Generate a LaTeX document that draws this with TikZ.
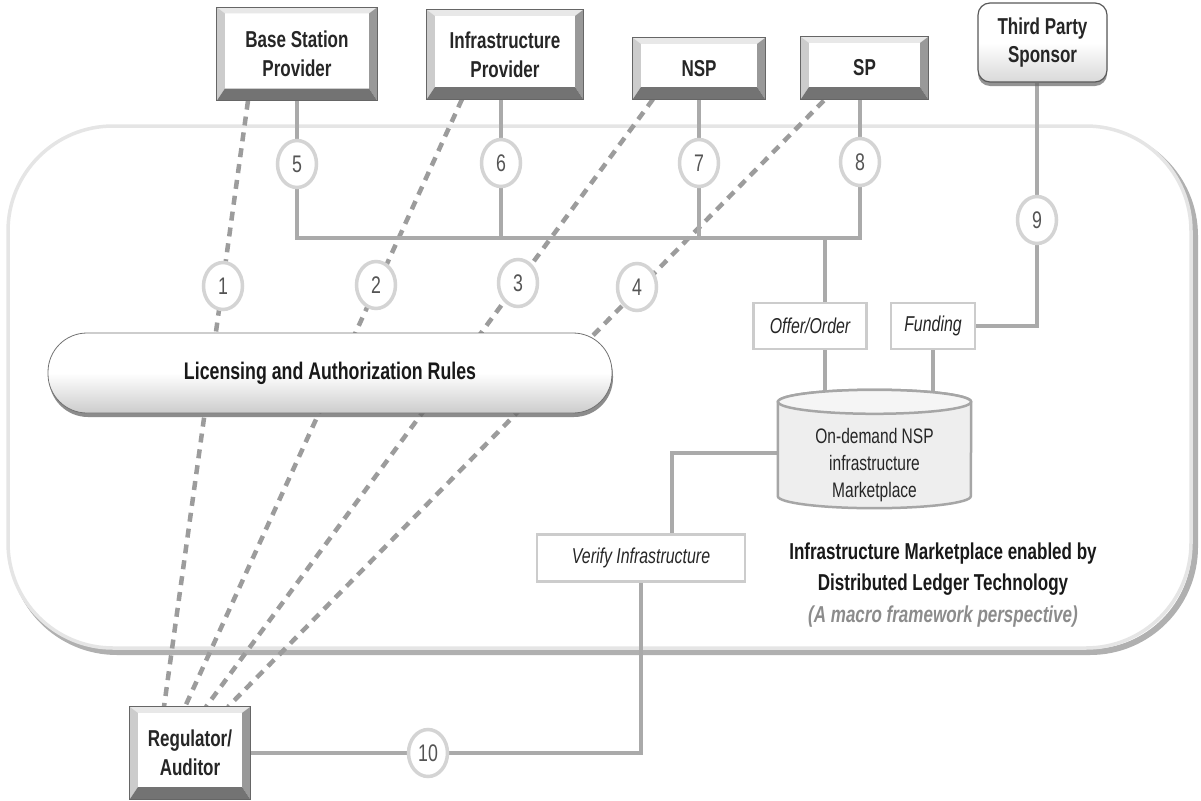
\documentclass[tikz,border=0pt]{standalone}
\usepackage{fontspec}
\setmainfont{Liberation Sans}[FakeStretch=0.74]
\usetikzlibrary{shapes.geometric,shadows,calc}
\pgfdeclarelayer{back}
\pgfdeclarelayer{wires}
\pgfdeclarelayer{body}
\pgfsetlayers{back,wires,body,main}

% bevelled frame drawn over the edges of a rectangular node
\newcommand\bevelframe[1]{%
  \fill[bvtop] (#1.north west) -- (#1.north east) -- ([shift={(-8pt,-6pt)}]#1.north east) -- ([shift={(8pt,-6pt)}]#1.north west) -- cycle;
  \fill[bvleft] (#1.north west) -- ([shift={(8pt,-6pt)}]#1.north west) -- ([shift={(8pt,12pt)}]#1.south west) -- (#1.south west) -- cycle;
  \fill[bvright] (#1.north east) -- ([shift={(-8pt,-6pt)}]#1.north east) -- ([shift={(-8pt,12pt)}]#1.south east) -- (#1.south east) -- cycle;
  \fill[bvbottom] (#1.south west) -- ([shift={(8pt,12pt)}]#1.south west) -- ([shift={(-8pt,12pt)}]#1.south east) -- (#1.south east) -- cycle;
  \draw[black!60, line width=0.8pt] (#1.north west) rectangle (#1.south east);
}

\begin{document}
\begin{tikzpicture}[x=1pt,y=-1pt,
  prov/.style={rectangle, fill=white, inner sep=0pt, align=center,
    font=\bfseries\fontsize{23}{29}\selectfont, text=black!85},
  bvtop/.style={fill=gray!18},
  bvleft/.style={fill=gray!40},
  bvright/.style={fill=gray!80},
  bvbottom/.style={fill=black!55},
  sponsor/.style={rectangle, rounded corners=12pt, draw=black!65, line width=1.2pt,
    top color=white, bottom color=gray!30, middle color=white,
    drop shadow={shadow xshift=0pt, shadow yshift=-4pt, fill=black!60, opacity=0.7},
    align=center, inner sep=0pt, font=\bfseries\fontsize{23}{28}\selectfont, text=black!85},
  pill/.style={rectangle, rounded corners=39pt, draw=black!55, line width=0.8pt,
    top color=white, bottom color=gray!40, middle color=white,
    drop shadow={shadow xshift=1pt, shadow yshift=-4pt, fill=black!60, opacity=0.75},
    font=\bfseries\fontsize{24}{28}\selectfont, text=black!90},
  num/.style={ellipse, draw=gray!34, line width=3.5pt, fill=white, inner sep=0pt,
    minimum width=39pt, minimum height=47pt, font=\fontsize{24}{24}\selectfont, text=black!67},
  tag/.style={rectangle, draw=gray!40, line width=2.5pt, fill=white, inner sep=0pt,
    font=\itshape\fontsize{21.5}{21.5}\selectfont, text=black!85},
  conn/.style={draw=gray!67, line width=4pt},
  regline/.style={draw=gray!78, line width=4.5pt, dash pattern=on 9pt off 7pt},
  cyl/.style={draw=gray!70, line width=2.5pt, fill=gray!13},
]
\useasboundingbox (0,0) rectangle (1201,800);

% outer container
\begin{pgfonlayer}{back}
  \draw[gray!62, line width=6pt, rounded corners=105pt] (12,131) rectangle (1195,652);
  \draw[gray!20, line width=3.5pt, fill=white, rounded corners=105pt] (8,126) rectangle (1191,648);
\end{pgfonlayer}

% parties
\node[prov, minimum width=160pt, minimum height=93pt] (bsp) at (297,54) {Base Station\\Provider};
\node[prov, minimum width=156pt, minimum height=89pt] (ip) at (505,54.5) {Infrastructure\\Provider};
\node[prov, minimum width=132pt, minimum height=61pt] (nsp) at (699,68.5) {NSP};
\node[prov, minimum width=127pt, minimum height=62pt] (sp) at (864.5,68) {SP};
\node[sponsor, minimum width=129pt, minimum height=79pt] (tps) at (1042.5,42.5) {Third Party\\Sponsor};
\node[prov, minimum width=120pt, minimum height=92pt] (reg) at (190,753) {Regulator/\\Auditor};

\bevelframe{bsp}
\bevelframe{ip}
\bevelframe{nsp}
\bevelframe{sp}
\bevelframe{reg}

% rules and ledger
\node[pill, minimum width=564pt, minimum height=80pt] (lic) at (330,373) {Licensing and Authorization Rules};
\node[tag, minimum width=113pt, minimum height=46pt] (oo) at (810,326) {Offer/Order};
\node[tag, minimum width=84pt, minimum height=46pt] (fund) at (933,326) {Funding};
\node[tag, minimum width=208pt, minimum height=47pt] (vi) at (641,558) {Verify Infrastructure};
\node[minimum width=193pt, minimum height=94pt, inner sep=0pt] (mkt) at (874.5,449) {};
\node[align=center, font=\fontsize{21}{27}\selectfont, text=black!85] (mktlbl) at (874.5,465)
  {On-demand NSP\\infrastructure\\Marketplace};

\begin{pgfonlayer}{body}
  \filldraw[cyl] (mkt.north west) -- (mkt.south west)
    arc[start angle=180, end angle=360, x radius=96.5pt, y radius=12pt]
    -- (mkt.north east)
    arc[start angle=0, end angle=180, x radius=96.5pt, y radius=12pt] -- cycle;
  \filldraw[cyl, fill=gray!8] (mkt.north) ellipse[x radius=96.5pt, y radius=12pt];
\end{pgfonlayer}

\node[align=center, font=\bfseries\fontsize{23}{31.5}\selectfont, text=black!90] (cap) at (943,585)
  {Infrastructure Marketplace enabled by\\Distributed Ledger Technology\\
   {\itshape\color{black!45}(A macro framework perspective)}};

% numbered steps
\node[num] (c1) at (223,286) {1};
\node[num] (c2) at (376,285) {2};
\node[num] (c3) at (518,283) {3};
\node[num] (c4) at (637,287) {4};
\node[num] (c5) at (297,164) {5};
\node[num] (c6) at (501,163) {6};
\node[num] (c7) at (699,163) {7};
\node[num] (c8) at (860,162) {8};
\node[num] (c9) at (1037,220) {9};
\node[num] (c10) at (428,753) {10};

\coordinate (busW) at (297,238);
\coordinate (busE) at (860,238);

\begin{pgfonlayer}{wires}
  % regulator oversight
  \draw[regline] ([xshift=-49pt]bsp.south) -- ([xshift=-26pt]reg.north);
  \draw[regline] ([xshift=-43pt]ip.south) -- ([xshift=-5pt]reg.north);
  \draw[regline] ([xshift=-46pt]nsp.south) -- ([xshift=16pt]reg.north);
  \draw[regline] ([xshift=-29.5pt,yshift=10pt]sp.south) -- ([xshift=38pt]reg.north);
  % supply bus
  \draw[conn] (bsp.south) -- (busW) -- (busE) -- ([xshift=-4.5pt]sp.south);
  \draw[conn] ([xshift=-4pt]ip.south) -- ([xshift=-4pt]ip.south |- busW);
  \draw[conn] (nsp.south) -- (nsp.south |- busW);
  \draw[conn] ([xshift=15pt]oo.north) -- ([xshift=15pt]oo.north |- busW);
  \draw[conn] ([xshift=15pt]oo.south) -- ([xshift=15pt]oo.south |- mkt.north);
  \draw[conn] (fund.south) -- (fund.south |- mkt.north);
  % sponsorship
  \draw[conn] ([xshift=-5.5pt]tps.south) |- (fund.east);
  % verification
  \draw[conn] ([yshift=-4pt]mkt.west) -| ([xshift=31pt]vi.north);
  \draw[conn] (vi.south) |- (reg.east);
\end{pgfonlayer}
\end{tikzpicture}
\end{document}
